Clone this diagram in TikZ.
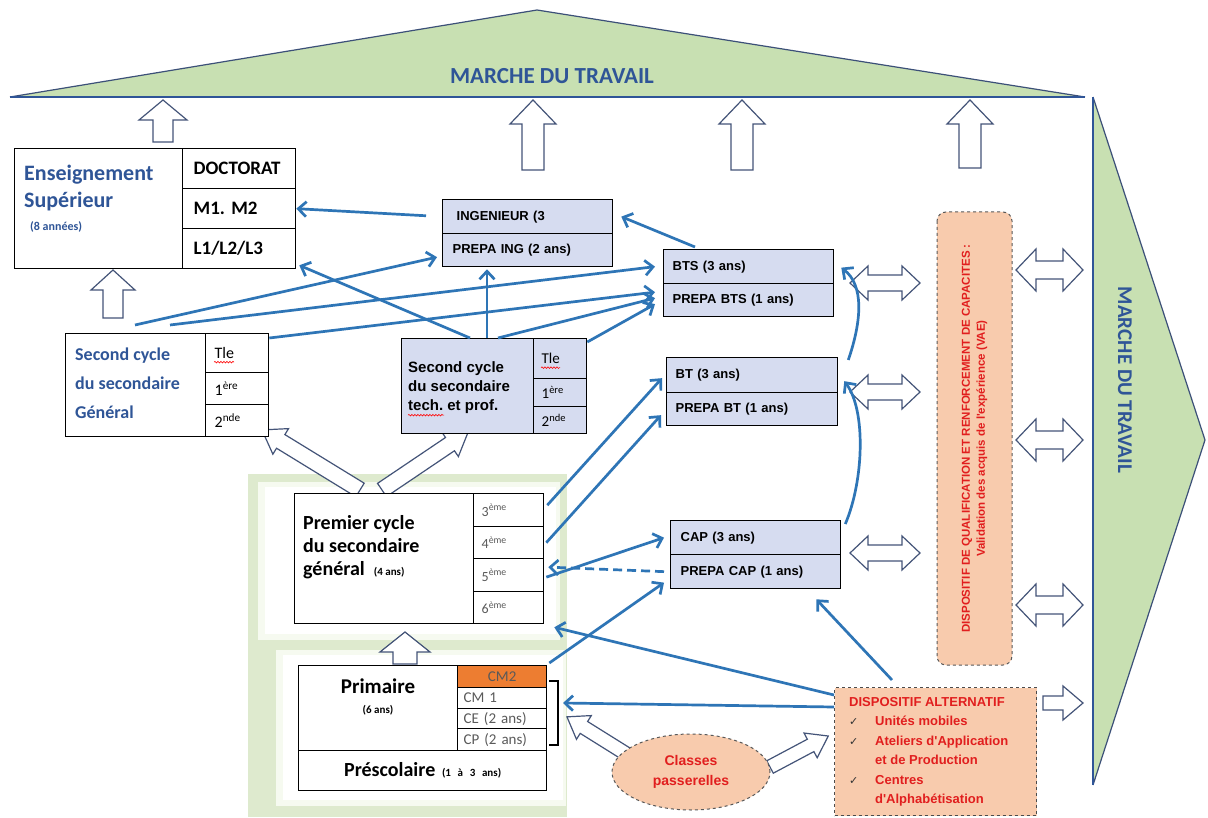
\documentclass[tikz,border=0pt]{standalone}
\usepackage{fontspec}
\setmainfont{Carlito}
\newfontfamily\arialf{Liberation Sans}
\newfontfamily\dejavu{DejaVu Sans}
\usetikzlibrary{arrows.meta,calc,decorations.pathmorphing,shapes.geometric}
\definecolor{connblue}{RGB}{46,117,182}
\definecolor{hollowc}{RGB}{68,84,120}
\definecolor{boxfill}{RGB}{214,220,240}
\definecolor{peach}{RGB}{248,203,173}
\definecolor{redtxt}{RGB}{225,30,30}
\definecolor{roofgreen}{RGB}{200,224,178}
\definecolor{roofline}{RGB}{60,80,120}
\definecolor{titleblue}{RGB}{47,85,151}
\definecolor{cmorange}{RGB}{237,125,49}
\definecolor{panelgreen}{RGB}{222,234,206}
\definecolor{panelinner}{RGB}{246,250,240}
\definecolor{graytxt}{RGB}{90,90,90}
\frenchspacing
\newcommand\fsz[2]{\fontsize{#1}{#2}\selectfont}
\newcommand\ck{\makebox[26pt][l]{\textcolor{black!80}{\dejavu\fsz{11}{13}✓}}}
\newcommand\mkcell[8]{%
  \pgfmathsetmacro\cellW{#4-#2-2*#6}%
  \pgfmathsetmacro\cellH{#5-#3}%
  \node[cell, inner xsep=#6pt, minimum height=\cellH pt, text width=\cellW pt, #7] (#1) at (#2,#3) {#8};}
\newcommand\blockarr[7]{%
  \begin{scope}[shift={(#1,#2)},rotate=#3]
  \draw[hollow] (0,{-#5}) -- ({#4-#7},{-#5}) -- ({#4-#7},{-#6}) -- (#4,0) -- ({#4-#7},#6) -- ({#4-#7},#5) -- (0,#5) -- cycle;
  \end{scope}}
\newcommand\dblarr[7]{%
  \begin{scope}[shift={(#1,#2)},rotate=#3]
  \draw[hollow] (0,0) -- (#7,{-#6}) -- (#7,{-#5}) -- ({#4-#7},{-#5}) -- ({#4-#7},{-#6}) -- (#4,0) -- ({#4-#7},#6) -- ({#4-#7},#5) -- (#7,#5) -- (#7,#6) -- cycle;
  \end{scope}}
\begin{document}
\begin{tikzpicture}[x=1pt,y=-1pt,
  conn/.style={draw=connblue, line width=2.7pt, -{Straight Barb[length=8pt,width=15pt]}},
  hollow/.style={draw=hollowc, line width=1.2pt, fill=white, line join=miter},
  cell/.style={draw=black, line width=1.3pt, anchor=north west, inner ysep=0pt, align=left},
  squig/.style={draw=red, line width=0.6pt, decorate, decoration={snake, amplitude=0.8pt, segment length=3pt}}]
\useasboundingbox (0,0) rectangle (1208,818);
\fill[white] (0,0) rectangle (1208,818);

% roof
\fill[roofgreen] (10,97) -- (537,10) -- (1085,97) -- cycle;
\draw[roofline, line width=1.2pt] (10,97) -- (537,10) -- (1085,97);
\draw[titleblue, line width=2.5pt] (10,97) -- (1085,97);
\node[font=\bfseries\fsz{23}{26}, text=titleblue] (roofT) at (552,76) {MARCHE DU TRAVAIL};

% right triangle
\fill[roofgreen] (1093,97) -- (1205,440) -- (1093,785) -- cycle;
\draw[roofline, line width=1.2pt] (1093,97) -- (1205,440) -- (1093,785);
\draw[titleblue, line width=2.5pt] (1093,97) -- (1093,785);
\node[rotate=-90, font=\bfseries\fsz{21}{24}, text=titleblue] (sideT) at (1125,380) {MARCHE DU TRAVAIL};

% green panel
\fill[panelgreen] (248,474) rectangle (567,817);
\fill[panelinner] (258,482) rectangle (560,640);
\fill[white] (265,487) rectangle (556,634);
\fill[panelinner] (276,650) rectangle (566,806);
\fill[white] (283,655) rectangle (563,800);

% hollow arrows
\blockarr{163}{142}{90}{42}{10}{24}{20}
\blockarr{533}{170}{90}{70}{11}{23}{24}
\blockarr{742}{170}{90}{70}{11}{23}{24}
\blockarr{970}{168}{90}{68}{11}{23}{24}
\blockarr{113}{318}{90}{48}{10}{22}{20}
\blockarr{405}{664}{90}{32}{12}{25}{20}
\blockarr{360}{490}{148.5}{115}{8}{15}{22}
\blockarr{382}{490}{34}{104}{8}{15}{22}
\blockarr{628}{755}{148}{72}{7}{14}{20}
\blockarr{770}{767}{28}{66}{7}{14}{20}
\blockarr{1043}{703}{0}{40}{7}{17}{20}
\dblarr{850}{283}{0}{70}{8}{17}{18}
\dblarr{850}{392}{0}{70}{8}{17}{18}
\dblarr{850}{553}{0}{70}{8}{17}{18}
\dblarr{1016}{270}{0}{67}{9}{21}{20}
\dblarr{1016}{440}{0}{67}{9}{21}{20}
\dblarr{1016}{605}{0}{67}{9}{21}{20}

% Enseignement superieur
\mkcell{ensL}{14}{148}{182}{268}{0}{}{}
\node[anchor=base west, inner sep=0, font=\bfseries\fsz{22}{26}, text=titleblue] (ensT1) at (24,181) {Enseignement};
\node[anchor=base west, inner sep=0, font=\bfseries\fsz{22}{26}, text=titleblue] (ensT2) at (24,208) {Supérieur};
\node[anchor=base west, inner sep=0, font=\bfseries\fsz{12}{14}, text=titleblue] (ensT3) at (30,231) {(8 années)};
\mkcell{doc}{182}{148}{295}{188}{11}{font=\bfseries\fsz{19}{21}}{DOCTORAT}
\mkcell{m12}{182}{188}{295}{228}{11}{font=\bfseries\fsz{19}{21}}{M1. M2}
\mkcell{l123}{182}{228}{295}{268}{11}{font=\bfseries\fsz{19}{21}}{L1/L2/L3}

% Ingenieur
\mkcell{ingT}{442}{199}{612}{233}{14}{fill=boxfill, font=\arialf\bfseries\fsz{13}{15}}{INGENIEUR (3}
\mkcell{prepaIng}{442}{233}{612}{266}{10}{fill=boxfill, font=\arialf\bfseries\fsz{13}{15}}{PREPA ING (2 ans)}
% BTS
\mkcell{btsT}{663}{249}{833}{283}{9}{fill=boxfill, font=\arialf\bfseries\fsz{13}{15}}{BTS (3 ans)}
\mkcell{prepaBts}{663}{283}{833}{316}{9}{fill=boxfill, font=\arialf\bfseries\fsz{13}{15}}{PREPA BTS (1 ans)}
% BT
\mkcell{btT}{666}{357}{837}{392}{9}{fill=boxfill, font=\arialf\bfseries\fsz{13}{15}}{BT (3 ans)}
\mkcell{prepaBt}{666}{392}{837}{425}{9}{fill=boxfill, font=\arialf\bfseries\fsz{13}{15}}{PREPA BT (1 ans)}
% CAP
\mkcell{capT}{670}{520}{840}{554}{10}{fill=boxfill, font=\arialf\bfseries\fsz{13}{15}}{CAP (3 ans)}
\mkcell{prepaCap}{670}{554}{840}{588}{10}{fill=boxfill, font=\arialf\bfseries\fsz{13}{15}}{PREPA CAP (1 ans)}

% Second cycle general
\mkcell{genL}{65}{333}{205}{436}{0}{fill=white}{}
\node[anchor=west, align=left, inner sep=0, font=\bfseries\fsz{18}{29}, text=titleblue] (genT) at (75,383) {Second cycle\\du secondaire\\Général};
\mkcell{genTle}{205}{333}{268}{372}{9}{fill=white, font=\fsz{16}{18}}{Tle}
\mkcell{gen1}{205}{372}{268}{404}{9}{fill=white, font=\fsz{16}{18}}{1\textsuperscript{ère}}
\mkcell{gen2}{205}{404}{268}{436}{9}{fill=white, font=\fsz{16}{18}}{2\textsuperscript{nde}}
\draw[squig] ($(genTle.west)+(9,9)$) -- ++(20,0);

% Second cycle tech
\mkcell{techL}{401}{338}{533}{433}{0}{fill=boxfill}{}
\node[anchor=west, align=left, inner sep=0, font=\arialf\bfseries\fsz{15}{19}] (techT) at (408,388) {Second cycle\\du secondaire\\tech. et prof.};
\mkcell{techTle}{533}{338}{586}{378}{8}{fill=boxfill, font=\fsz{15}{17}}{Tle}
\mkcell{tech1}{533}{378}{586}{406}{8}{fill=boxfill, font=\fsz{15}{17}}{1\textsuperscript{ère}}
\mkcell{tech2}{533}{406}{586}{433}{8}{fill=boxfill, font=\fsz{15}{17}}{2\textsuperscript{nde}}
\draw[squig] ($(techTle.west)+(8,9)$) -- ++(19,0);
\draw[squig] ($(techT.south west)+(0,1)$) -- ++(36,0);

% Premier cycle
\mkcell{pL}{294}{493}{473}{623}{0}{fill=white}{}
\node[anchor=west, align=left, inner sep=0, font=\bfseries\fsz{20}{23}] (pT) at (303,547) {Premier cycle\\du secondaire\\général\ \ {\fsz{11}{13}(4 ans)}};
\mkcell{p3}{473}{493}{543}{526}{8}{fill=white, font=\fsz{14}{16}, text=graytxt}{3\textsuperscript{ème}}
\mkcell{p4}{473}{526}{543}{558}{8}{fill=white, font=\fsz{14}{16}, text=graytxt}{4\textsuperscript{ème}}
\mkcell{p5}{473}{558}{543}{591}{8}{fill=white, font=\fsz{14}{16}, text=graytxt}{5\textsuperscript{ème}}
\mkcell{p6}{473}{591}{543}{623}{8}{fill=white, font=\fsz{14}{16}, text=graytxt}{6\textsuperscript{ème}}

% Primaire
\mkcell{prL}{298}{665}{457}{750}{0}{fill=white}{}
\node[font=\bfseries\fsz{21}{24}] (prT) at (378,686) {Primaire};
\node[font=\bfseries\fsz{11}{13}] (prS) at (378,710) {(6 ans)};
\mkcell{cm2}{457}{665}{546}{687}{0}{fill=cmorange, align=center, font=\fsz{15}{17}, text=black!65}{CM2}
\mkcell{cm1}{457}{687}{546}{708}{6}{fill=white, font=\fsz{15}{17}, text=graytxt}{CM 1}
\mkcell{ce}{457}{708}{546}{728}{6}{fill=white, font=\fsz{15}{17}, text=graytxt}{CE (2 ans)}
\mkcell{cp}{457}{728}{546}{750}{6}{fill=white, font=\fsz{15}{17}, text=graytxt}{CP (2 ans)}
\mkcell{prs}{298}{750}{546}{790}{0}{fill=white, align=center, font=\bfseries\fsz{20}{22}}{Préscolaire {\fsz{11}{13}(1 à 3 ans)}}
\draw[line width=1.2pt] (549,681) -- (558,681) -- (558,745) -- (549,745);
\coordinate (brk) at (563,703);

% Qualification
\node[rotate=90, draw=gray!70!black, dashed, line width=1pt, rounded corners=9pt, fill=peach, minimum width=453pt, minimum height=75pt, align=center, text=redtxt, font=\arialf\bfseries\fsz{11.5}{15}] (qual) at (974.5,438.5) {DISPOSITIF DE QUALIFICATION ET RENFORCEMENT DE CAPACITES :\\Validation des acquis de l'expérience (VAE)};

% Alternatif
\node[draw=gray!60!black, dashed, line width=1pt, fill=peach, anchor=north west, minimum width=202pt, minimum height=128pt, inner sep=0] (alt) at (834,687) {};
\node[anchor=north west, align=left, inner sep=0, text=redtxt, font=\arialf\bfseries\fsz{13}{19.5}] (altT) at (849,697) {DISPOSITIF ALTERNATIF\\\ck Unités mobiles\\\ck Ateliers d'Application\\\hspace*{26pt}et de Production\\\ck Centres\\\hspace*{26pt}d'Alphabétisation};

% Classes passerelles
\node[ellipse, draw=gray!70!black, dashed, line width=1pt, fill=peach, minimum width=158pt, minimum height=76pt, align=center, text=redtxt, font=\arialf\bfseries\fsz{14}{20}] (pass) at (691,772) {Classes\\passerelles};

% connectors
\draw[conn, shorten <=16pt] (ingT.west) -- (m12.east);
\draw[conn] ($(techL.north west)+(69,0)$) -- ($(l123.south east)+(3,-4)$);
\draw[conn] ($(btsT.north west)+(32,-2)$) -- ($(ingT.east)+(8,0)$);
\draw[conn] ($(techL.north west)+(86,0)$) -- ($(prepaIng.south west)+(45,2)$);
\draw[conn] ($(genL.north west)+(70,-8)$) -- ($(prepaIng.west)+(-5,7)$);
\draw[conn] ($(genL.north west)+(105,-8)$) -- ($(btsT.west)+(-8,0)$);
\draw[conn] ($(genTle.north east)+(0,5)$) -- ($(prepaBts.west)+(-8,-8)$);
\draw[conn] ($(techL.north west)+(97,0)$) -- ($(prepaBts.west)+(-8,-2)$);
\draw[conn] ($(techTle.north east)+(0,4)$) -- ($(prepaBts.west)+(-8,4)$);
\draw[conn] ($(p3.east)+(3,-5)$) -- ($(btT.west)+(-4,3)$);
\draw[conn] ($(p4.east)+(2,0)$) -- ($(prepaBt.west)+(-5,6)$);
\draw[conn] ($(p5.east)+(2,2)$) -- ($(capT.west)+(-6,0)$);
\draw[conn, dash pattern=on 9pt off 5pt] ($(prepaCap.west)+(-6,0)$) -- ($(p5.east)+(4,-8)$);
\draw[conn] ($(cm2.north east)+(2,-2)$) -- ($(prepaCap.west)+(-6,11)$);
\draw[conn] ($(alt.north west)+(0,8)$) -- ($(p6.south east)+(10,3)$);
\draw[conn] ($(alt.north west)+(0,20)$) -- (brk);
\draw[conn] ($(alt.north west)+(58,-7)$) -- ($(prepaCap.south east)+(-25,10)$);
\draw[conn] ($(capT.north east)+(4,4)$) .. controls (864,480) and (866,410) .. ($(btT.east)+(6,6)$);
\draw[conn] ($(btT.north east)+(10,3)$) .. controls (862,320) and (864,285) .. ($(btsT.east)+(7,1)$);
\end{tikzpicture}
\end{document}
